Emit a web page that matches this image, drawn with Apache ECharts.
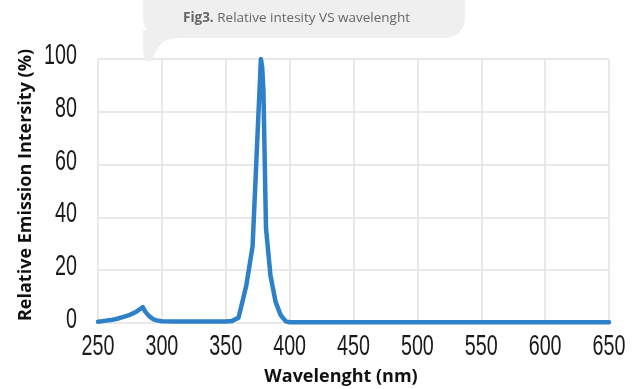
<!DOCTYPE html>
<html>
<head>
<meta charset="utf-8">
<script src="https://cdn.jsdelivr.net/npm/echarts@6/dist/echarts.min.js"></script>
<style>
  html, body { margin: 0; padding: 0; background: #ffffff; }
  #chart { width: 637px; height: 389px; }
</style>
</head>
<body>
<div id="chart"></div>
<script>
// Emission spectrum: wavelength (nm) and relative intensity (%)
const wavelength = [250, 255, 260, 265, 270, 275, 280, 283, 285, 287, 290, 293, 296, 300, 310, 320, 330, 340, 350, 355, 360, 366, 371, 377.5, 378.5, 379.5, 381.5, 385, 389, 393, 397, 400, 420, 450, 500, 550, 600, 650];
const intensity  = [0.5, 0.8, 1.1, 1.6, 2.3, 3.1, 4.3, 5.3, 6.0, 4.3, 2.6, 1.5, 1.0, 0.7, 0.6, 0.6, 0.6, 0.6, 0.6, 0.8, 2, 14, 29, 100, 97, 88, 36, 18, 8, 3, 0.6, 0.3, 0.3, 0.3, 0.3, 0.3, 0.3, 0.3];

const xTickLabels = [250, 300, 350, 400, 450, 500, 550, 600, 650];
const yTickLabels = [0, 20, 40, 60, 80, 100];

const titleBold = 'Fig3.';
const titleRest = ' Relative intesity VS wavelenght';
const xName = 'Wavelenght (nm)';
const yName = 'Relative Emission Intersity (%)';

const points = wavelength.map((w, i) => [w, intensity[i]]);

const chart = echarts.init(document.getElementById('chart'), null, { renderer: 'canvas' });

const nameFont = {
  fontFamily: '"Open Sans", sans-serif',
  fontWeight: 'bold',
  fontSize: 18,
  color: '#111111'
};

// narrow tick-label face: regular sans squeezed horizontally
const tickStyle = {
  fontFamily: '"Liberation Sans", Arial, sans-serif',
  fontSize: 29,
  fill: '#1a1a1a',
  verticalAlign: 'middle'
};
const tickSqueeze = 0.68;

const gridBox = { left: 98, right: 28, top: 59, bottom: 66 };

const captionGraphics = [
  {
    // caption box
    type: 'rect',
    z: 0,
    shape: { x: 143, y: -30, width: 322, height: 68, r: [0, 0, 20, 20] },
    style: { fill: '#efefef' }
  },
  {
    // caption bubble tail
    type: 'polygon',
    z: 0,
    shape: {
      points: [[143, 30], [143, 50], [144, 56], [145.5, 59.5], [147.5, 61.5], [150, 61.5], [152, 59], [155, 53], [159, 46], [164, 41.5], [171, 38.8], [180, 38], [180, 30]]
    },
    style: { fill: '#efefef' }
  },
  {
    type: 'text',
    z: 1,
    x: 183,
    y: 18,
    style: {
      text: '{b|' + titleBold + '}{n|' + titleRest + '}',
      verticalAlign: 'middle',
      rich: {
        b: { fontFamily: '"Open Sans", sans-serif', fontWeight: 'bold', fontSize: 13.5, fill: '#666666' },
        n: { fontFamily: '"Open Sans", sans-serif', fontSize: 13.5, fill: '#666666' }
      }
    }
  }
];

chart.setOption({
  backgroundColor: '#ffffff',
  animation: false,
  grid: Object.assign({ containLabel: false, outerBoundsMode: 'none' }, gridBox),
  graphic: captionGraphics,
  xAxis: {
    type: 'value',
    min: xTickLabels[0],
    max: xTickLabels[xTickLabels.length - 1],
    interval: xTickLabels[1] - xTickLabels[0],
    name: xName,
    nameLocation: 'middle',
    nameGap: 45,
    nameTextStyle: Object.assign({ padding: [0, 25, 0, 0] }, nameFont),
    axisLine: { show: false },
    axisTick: { show: false },
    axisLabel: { show: false },
    splitLine: { show: true, lineStyle: { color: '#e2e2e2', width: 1.5 } }
  },
  yAxis: {
    type: 'value',
    min: yTickLabels[0],
    max: yTickLabels[yTickLabels.length - 1],
    interval: yTickLabels[1] - yTickLabels[0],
    name: yName,
    nameLocation: 'middle',
    nameGap: 63,
    nameTextStyle: Object.assign({ padding: [0, 0, 0, 12] }, nameFont),
    axisLine: { show: false },
    axisTick: { show: false },
    axisLabel: { show: false },
    splitLine: { show: true, lineStyle: { color: '#e2e2e2', width: 1.5 } }
  },
  series: [
    {
      type: 'line',
      data: points,
      showSymbol: false,
      smooth: false,
      lineStyle: { color: '#2e80c8', width: 4.5, join: 'round', cap: 'round' },
      z: 3
    }
  ]
});

// tick labels placed through the axis scales
const tickGraphics = [];
xTickLabels.forEach(function (v) {
  const p = chart.convertToPixel({ gridIndex: 0 }, [v, yTickLabels[0]]);
  tickGraphics.push({
    type: 'text',
    x: p[0],
    y: p[1] + 23.5,
    scaleX: tickSqueeze,
    style: Object.assign({ text: String(v), align: 'center' }, tickStyle)
  });
});
yTickLabels.forEach(function (v) {
  const p = chart.convertToPixel({ gridIndex: 0 }, [xTickLabels[0], v]);
  tickGraphics.push({
    type: 'text',
    x: p[0] - 21,
    y: p[1] - 3,
    scaleX: tickSqueeze,
    style: Object.assign({ text: String(v), align: 'right' }, tickStyle)
  });
});
chart.setOption({ graphic: captionGraphics.concat(tickGraphics) }, { replaceMerge: ['graphic'] });
</script>
</body>
</html>
